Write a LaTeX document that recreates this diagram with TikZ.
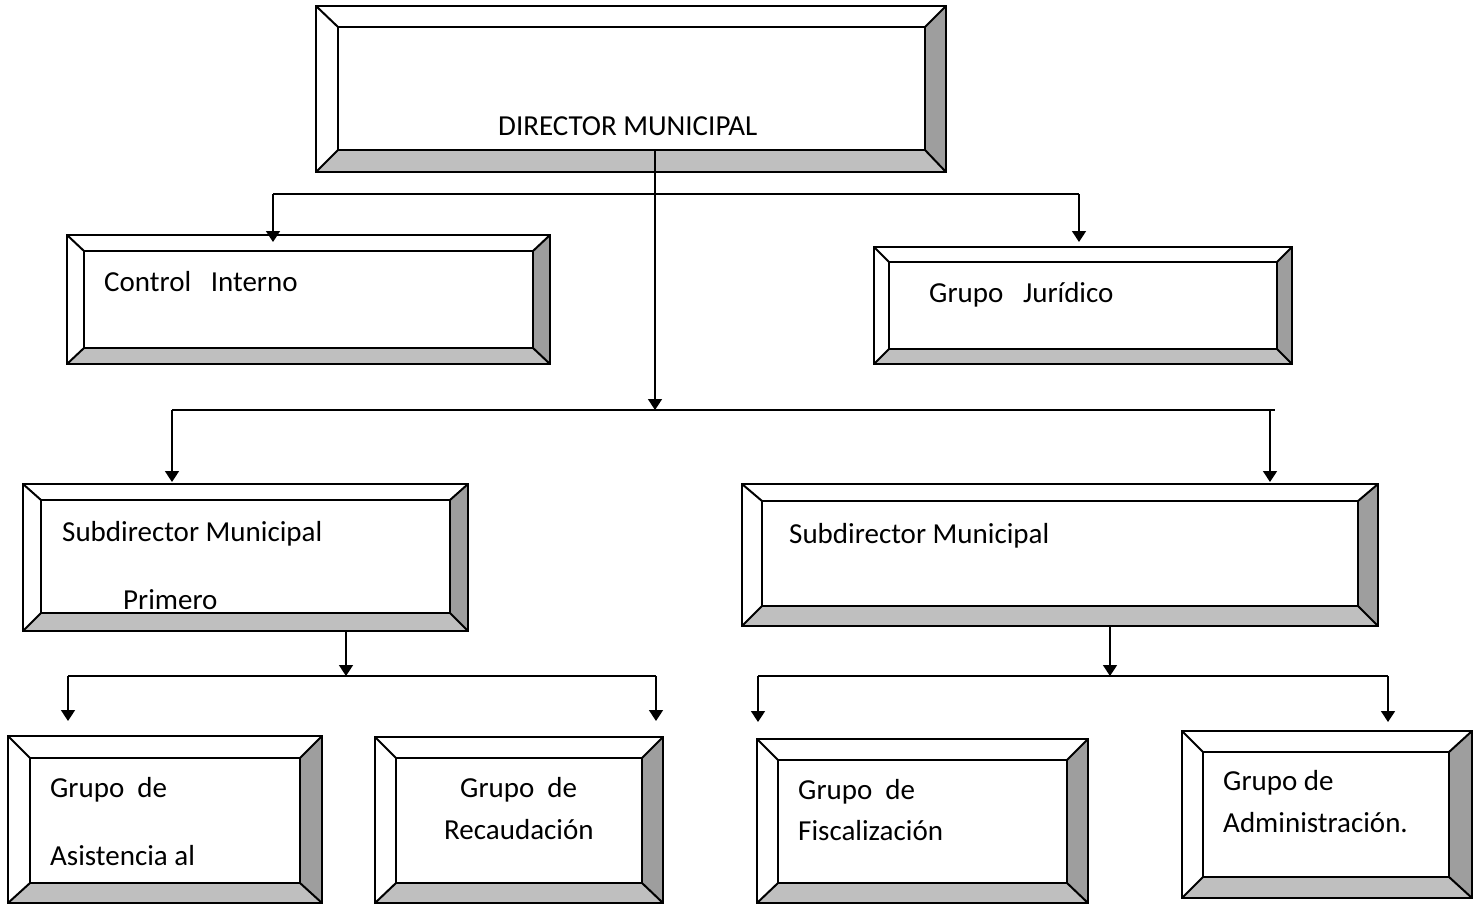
\documentclass[tikz,border=0pt]{standalone}
\usepackage{fontspec}
\setmainfont{Carlito}
\usetikzlibrary{arrows.meta,positioning,calc}

\tikzset{
  frame/.style={line width=2pt, line join=miter},
  bevlo/.style={fill=black!25},
  bevri/.style={fill=black!38},
  link/.style={line width=1.6pt},
  arr/.style={link, -{Triangle[width=14pt,length=11pt]}},
  lbl/.style={anchor=base west, inner sep=0pt, font=\fontsize{29pt}{35pt}\selectfont},
}

\begin{document}
\begin{tikzpicture}[x=1pt,y=-1pt]
\useasboundingbox (0,0) rectangle (1479,905);

% boxes: name / outer corners / inner corners
\foreach \n/\xa/\ya/\xb/\yb/\ua/\va/\ub/\vb in {
  dir/316/6/946/172/338/27/925/150,
  ctrl/67/235/550/364/84/251/533/348,
  jur/874/247/1292/364/889/262/1277/349,
  subA/23/484/468/631/41/500/450/613,
  subB/742/484/1378/626/762/501/1358/606,
  asis/8/736/322/903/30/758/300/883,
  reca/375/737/663/903/396/758/642/883,
  fisc/757/739/1088/903/778/760/1067/883,
  adm/1182/731/1472/898/1203/752/1449/877}
{
  \fill[bevlo] (\xa,\yb) -- (\xb,\yb) -- (\ub,\vb) -- (\ua,\vb) -- cycle;
  \fill[bevri] (\xb,\ya) -- (\xb,\yb) -- (\ub,\vb) -- (\ub,\va) -- cycle;
  \draw[frame] (\xa,\ya) rectangle (\xb,\yb);
  \draw[frame] (\ua,\va) rectangle (\ub,\vb);
  \draw[frame] (\xa,\ya) -- (\ua,\va) (\xb,\ya) -- (\ub,\va)
               (\xb,\yb) -- (\ub,\vb) (\xa,\yb) -- (\ua,\vb);
}

% labels
\node[lbl] (dir-t) at (498,135) {DIRECTOR MUNICIPAL};
\node[lbl] (ctrl-t) at (104,291) {Control\ \ \ Interno};
\node[lbl] (jur-t) at (929,302) {Grupo\ \ \ Jurídico};
\node[lbl] (subA-t) at (62,541) {Subdirector Municipal};
\node[lbl] (subA-u) at (123,609) {Primero};
\node[lbl] (subB-t) at (789,543) {Subdirector Municipal};
\node[lbl] (asis-t) at (50,797) {Grupo\ \ de};
\node[lbl] (asis-u) at (50,865) {Asistencia al};
\node[lbl] (reca-t) at (460,797) {Grupo\ \ de};
\node[lbl] (reca-u) at (444,839) {Recaudación};
\node[lbl] (fisc-t) at (798,799) {Grupo\ \ de};
\node[lbl] (fisc-u) at (798,840) {Fiscalización};
\node[lbl] (adm-t) at (1223,790) {Grupo de};
\node[lbl] (adm-u) at (1223,832) {Administración.};

% connector points
\foreach \p/\x/\y in {t0/655/150, t1/655/410,
  a0/273/194, a1/1079/194, a0d/273/242, a1d/1079/242,
  b0/172/410, b1/1275/410, b0d/172/482, b1u/1270/410, b1d/1270/482,
  s1/346/631, s1d/346/676, c0/68/676, c1/656/676, c0d/68/721, c1d/656/721,
  s2/1110/626, s2d/1110/676, e0/758/676, e1/1388/676, e0d/758/722, e1d/1388/722}
  \coordinate (\p) at (\x,\y);

% connectors
\draw[link] (a0) -- (a1);
\draw[link] (b0) -- (b1);
\draw[link] (c0) -- (c1);
\draw[link] (e0) -- (e1);
\foreach \a/\b in {t0/t1, a0/a0d, a1/a1d, b0/b0d, b1u/b1d,
  s1/s1d, c0/c0d, c1/c1d, s2/s2d, e0/e0d, e1/e1d}
  \draw[arr] (\a) -- (\b);
\end{tikzpicture}
\end{document}
